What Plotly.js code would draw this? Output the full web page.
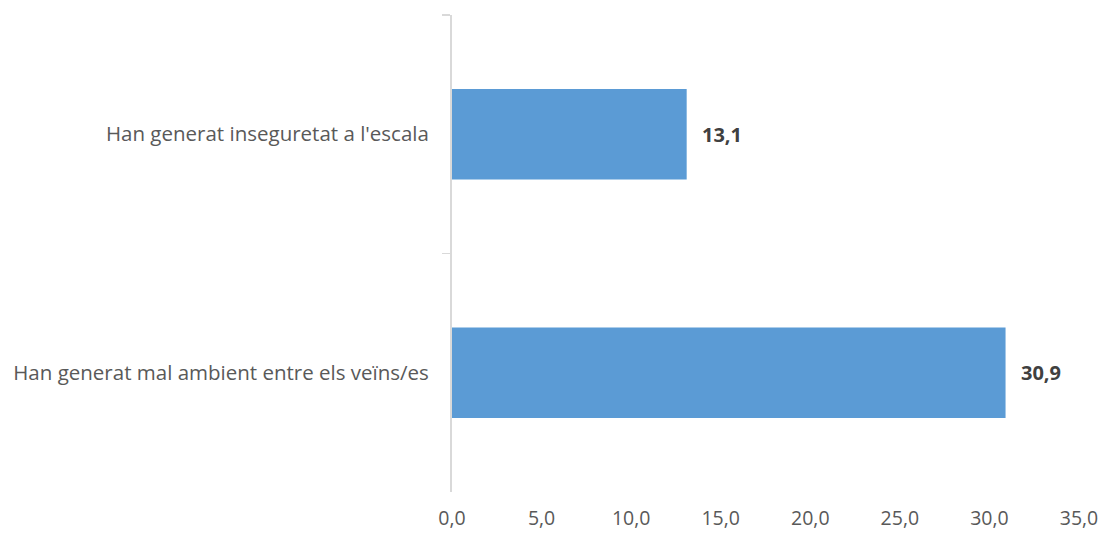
<!DOCTYPE html>
<html>
<head>
<meta charset="utf-8">
<script src="https://cdn.plot.ly/plotly-3.0.1.min.js"></script>
<style>html,body{margin:0;padding:0;background:#fff;}#chart{width:1102px;height:534px;}</style>
</head>
<body>
<div id="chart"></div>
<script>
const categories = ["Han generat inseguretat a l'escala", "Han generat mal ambient entre els veïns/es"];
const values = [13.1, 30.9];
const xTicks = [0, 5, 10, 15, 20, 25, 30, 35];
const xTickLabels = ["0,0", "5,0", "10,0", "15,0", "20,0", "25,0", "30,0", "35,0"];
const valueLabels = values.map(v => v.toFixed(1).replace('.', ','));

const FONT = "'Open Sans', sans-serif";

const trace = {
  type: 'bar',
  orientation: 'h',
  y: categories,
  x: values,
  marker: {color: '#5B9BD5'},
  hoverinfo: 'none'
};

const annotations = values.map((v, i) => ({
  x: v, y: categories[i], xref: 'x', yref: 'y',
  text: '<b>' + valueLabels[i] + '</b>',
  showarrow: false, xanchor: 'left', xshift: 13,
  font: {family: FONT, size: 20, color: '#404040'}
}));

const layout = {
  width: 1102, height: 534,
  margin: {l: 452, r: 23, t: 15, b: 42},
  paper_bgcolor: '#fff', plot_bgcolor: '#fff',
  showlegend: false,
  bargap: 0.62,
  xaxis: {
    range: [0, 35],
    tickvals: xTicks, ticktext: xTickLabels,
    showgrid: false, zeroline: false, showline: false, ticks: '',
    ticklabelstandoff: 12,
    tickfont: {family: FONT, size: 19.5, color: '#595959'},
    fixedrange: true
  },
  yaxis: {
    type: 'category',
    autorange: 'reversed',
    showgrid: false, zeroline: false,
    showline: true, linecolor: '#d9d9d9', linewidth: 2,
    ticks: 'outside', tickson: 'boundaries', ticklen: 8, tickcolor: '#d9d9d9', tickwidth: 1.5,
    ticklabelstandoff: 17,
    tickfont: {family: FONT, size: 20.5, color: '#595959'},
    fixedrange: true
  },
  annotations: annotations
};

Plotly.newPlot('chart', [trace], layout, {displayModeBar: false, staticPlot: true});
</script>
</body>
</html>
